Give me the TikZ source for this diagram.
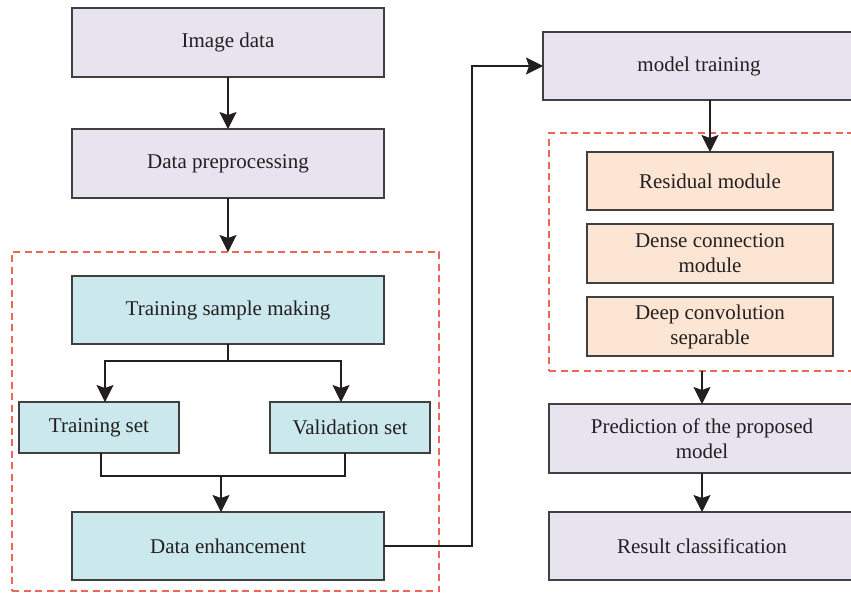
\documentclass[tikz,border=0pt]{standalone}
\usepackage{fontspec}
\setmainfont{Liberation Serif}
\usetikzlibrary{arrows.meta,calc}
\definecolor{lav}{HTML}{E8E4EF}
\definecolor{cya}{HTML}{CBE9EC}
\definecolor{pea}{HTML}{FDE5D3}
\definecolor{dred}{HTML}{EE6656}
\definecolor{bord}{HTML}{404040}
\definecolor{txt}{HTML}{231F20}
\tikzset{
  box/.style={draw=bord, line width=1.2pt, inner sep=0pt, outer sep=0pt, align=center,
    text=txt, font=\fontsize{21}{25}\selectfont},
  lavbox/.style={box, fill=lav},
  cyabox/.style={box, fill=cya},
  peabox/.style={box, fill=pea},
  dbox/.style={draw=dred, line width=1.2pt, dash pattern=on 7pt off 4.5pt, inner sep=0pt, outer sep=0pt},
  conn/.style={draw=txt, line width=1.1pt},
  arr/.style={conn, -{Stealth[length=17pt, width=17pt, inset=3pt]}},
}
\begin{document}
\begin{tikzpicture}[x=1pt, y=-1pt]
\useasboundingbox (0,0) rectangle (851,592);
\clip (0,0) rectangle (851,592);
% dashed groups
\node[dbox, minimum width=427pt, minimum height=339pt] (ldash) at (225.5,421.5) {};
\node[dbox, minimum width=321pt, minimum height=238pt] (rdash) at (709.5,252) {};
% left column
\node[lavbox, minimum width=312pt, minimum height=69pt] (img) at (228,42.5) {Image data};
\node[lavbox, minimum width=312pt, minimum height=69pt] (prep) at (228,163.5) {Data preprocessing};
\node[cyabox, minimum width=312pt, minimum height=68pt] (tsm) at (228,310) {Training sample making};
\node[cyabox, minimum width=160pt, minimum height=51pt] (tset) at (99,427.5) {Training set};
\node[cyabox, minimum width=160pt, minimum height=51pt] (vset) at (350,427.5) {Validation set};
\node[cyabox, minimum width=312pt, minimum height=68pt] (enh) at (228,546) {Data enhancement};
% right column
\node[lavbox, minimum width=312pt, minimum height=68pt] (model) at (699,66) {model training};
\node[peabox, minimum width=246pt, minimum height=58pt] (res) at (710,181) {Residual module};
\node[peabox, minimum width=246pt, minimum height=59pt] (dense) at (710,253.5) {Dense connection\\module};
\node[peabox, minimum width=246pt, minimum height=59pt] (deep) at (710,326.5) {Deep convolution\\separable};
\node[lavbox, minimum width=306pt, minimum height=69pt] (pred) at (702,438.5) {Prediction of the proposed\\model};
\node[lavbox, minimum width=306pt, minimum height=68pt] (result) at (702,546) {Result classification};
% connectors
\draw[arr] (img) -- (prep);
\draw[arr] (prep.south) -- (prep.south |- ldash.north);
\draw[arr] (tsm.south) -- ++(0,17) -| ([xshift=6pt]tset.north);
\draw[arr] (tsm.south) -- ++(0,17) -| ([xshift=-9pt]vset.north);
\coordinate (j) at (221,476);
\draw[conn] ([xshift=2pt]tset.south) |- (j) -| ([xshift=-5pt]vset.south);
\draw[arr] (j) -- (j |- enh.north);
\coordinate (turn) at (472,0);
\draw[arr] (enh.east) -| (turn |- model.west) -- (model.west);
\draw[arr] (model.south -| res.north) -- (res.north);
\draw[arr] (pred.north |- rdash.south) -- (pred.north);
\draw[arr] (pred) -- (result);
\end{tikzpicture}
\end{document}
